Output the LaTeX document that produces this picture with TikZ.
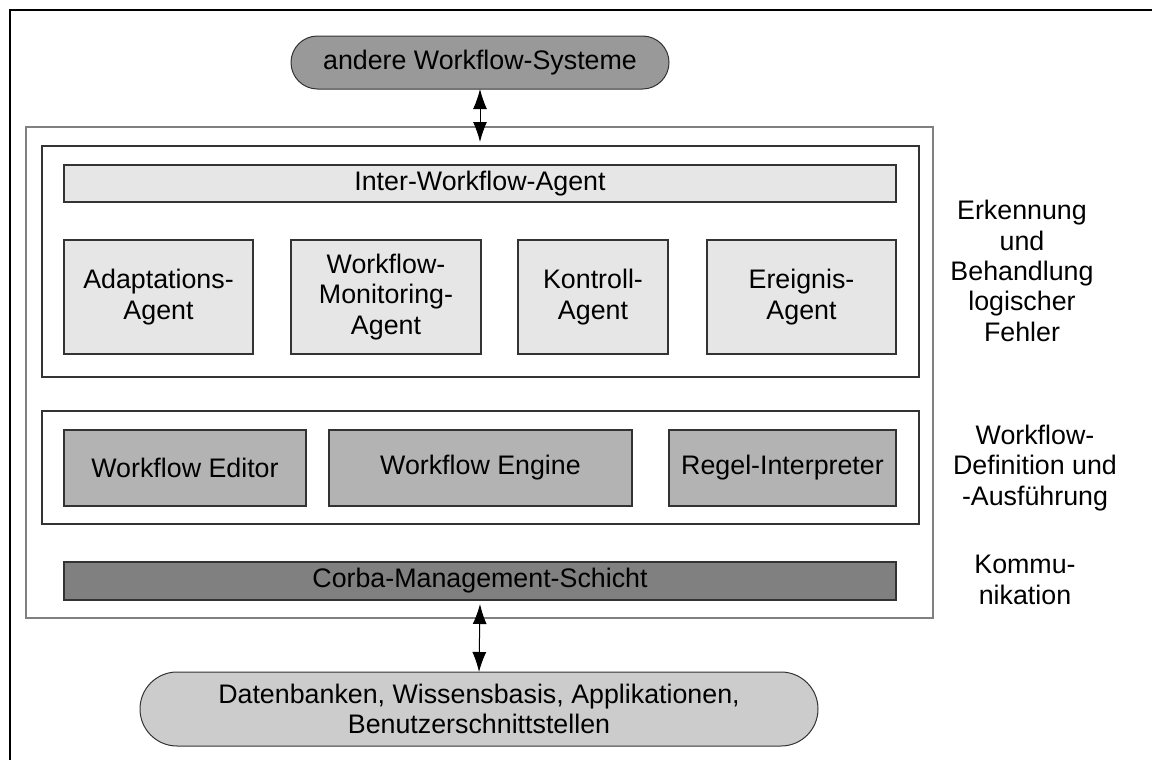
\documentclass[tikz,border=0pt]{standalone}
\usepackage{fontspec}
\setmainfont{Liberation Sans}
\usetikzlibrary{shapes.misc,arrows.meta}
\definecolor{cTop}{HTML}{999999}
\definecolor{cBot}{HTML}{CCCCCC}
\definecolor{cAgent}{HTML}{E6E6E6}
\definecolor{cMid}{HTML}{B3B3B3}
\definecolor{cCorba}{HTML}{808080}
\definecolor{cEdge}{HTML}{333333}
\begin{document}
\begin{tikzpicture}[x=0.5pt,y=-0.5pt,
  every node/.style={font=\fontsize{13.4pt}{15.2pt}\selectfont, align=center, inner sep=0pt, outer sep=0pt},
  pill/.style={rounded rectangle, draw=cEdge, line width=0.5pt},
  frame/.style={draw=cCorba, line width=0.6pt},
  layer/.style={draw=cEdge, line width=0.6pt},
  block/.style={draw=cEdge, line width=0.6pt},
  agent/.style={block, fill=cAgent},
  midbox/.style={block, fill=cMid},
  sidelabel/.style={},
  biarrow/.style={{Latex[length=10pt,width=7pt]}-{Latex[length=10pt,width=7pt]}, line width=0.5pt}
]
\useasboundingbox (0,0) rectangle (1152,760);
% outer frame lines
\draw[line width=1.1pt] (10,760) -- (10,10) -- (1152,10);

% top and bottom pills
\node[pill, fill=cTop, minimum width=189pt, minimum height=26.5pt] (tp) at (480,62.5) {andere Workflow-Systeme};
\node[pill, fill=cBot, minimum width=339pt, minimum height=37pt] (bp) at (479,709)
  {Datenbanken, Wissensbasis, Applikationen,\\Benutzerschnittstellen};

% big container
\node[frame, minimum width=453.5pt, minimum height=245.5pt] (big) at (479.5,372.5) {};
\node[layer, minimum width=438.5pt, minimum height=115.5pt] (l1) at (480.5,261.5) {};
\node[layer, minimum width=438.5pt, minimum height=56.5pt] (l2) at (480.5,467.5) {};

% layer 1
\node[agent, minimum width=416pt, minimum height=18.5pt] (iwa) at (480,183.5) {Inter-Workflow-Agent};
\node[agent, minimum width=94.5pt, minimum height=57pt] (aa) at (158.5,297) {Adaptations-\\Agent};
\node[agent, minimum width=95pt, minimum height=57pt] (wma) at (386,297) {Workflow-\\Monitoring-\\Agent};
\node[agent, minimum width=75pt, minimum height=57pt] (ka) at (593,297) {Kontroll-\\Agent};
\node[agent, minimum width=94.5pt, minimum height=57pt] (ea) at (801.5,297) {Ereignis-\\Agent};

% layer 2
\node[midbox, minimum width=121pt, minimum height=38pt] (we) at (185,468) {Workflow Editor};
\node[midbox, minimum width=151.5pt, minimum height=38pt] (wen) at (480.5,468) {Workflow Engine};
\node[midbox, minimum width=113.5pt, minimum height=38pt] (ri) at (782.5,468) {Regel-Interpreter};

% corba
\node[block, fill=cCorba, minimum width=416pt, minimum height=19pt] (cb) at (480,581) {Corba-Management-Schicht};

% side labels
\node[sidelabel] (s1) at (1022,271) {Erkennung\\und\\Behandlung\\logischer\\Fehler};
\node[sidelabel] (s2) at (1035,468) {Workflow-\\Definition und\\-Ausführung};
\node[sidelabel] (s3) at (1025,580) {Kommu-\\nikation};

% arrows
\coordinate (ta) at (480,142);
\draw[biarrow] (tp.south) -- (ta);
\draw[biarrow] ([yshift=-2pt]cb.south) -- (bp.north);
\end{tikzpicture}
\end{document}
